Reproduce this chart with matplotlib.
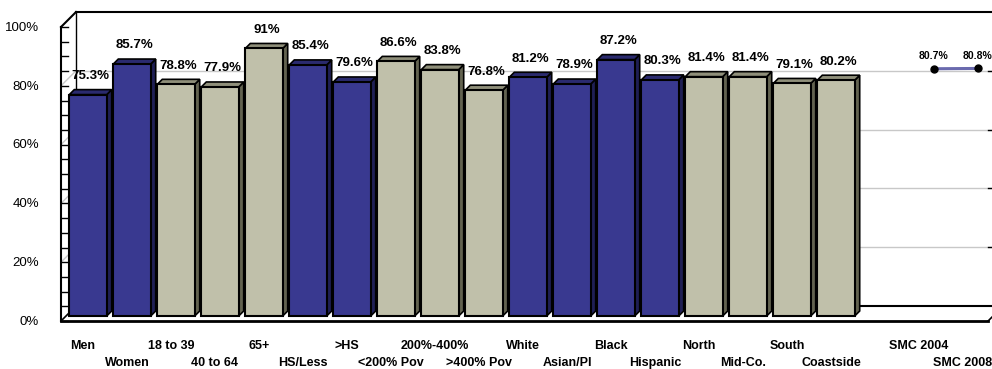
import numpy as np
import matplotlib
matplotlib.use("Agg")
import matplotlib.pyplot as plt
from matplotlib.patches import Polygon

plt.rcParams['font.family'] = ['Liberation Sans', 'DejaVu Sans']

# Data
categories = ["Men", "Women", "18 to 39", "40 to 64", "65+", "HS/Less", ">HS",
              "<200% Pov", "200%-400%", ">400% Pov", "White", "Asian/PI", "Black",
              "Hispanic", "North", "Mid-Co.", "South", "Coastside"]
values = [75.3, 85.7, 78.8, 77.9, 91.0, 85.4, 79.6, 86.6, 83.8, 76.8,
          81.2, 78.9, 87.2, 80.3, 81.4, 81.4, 79.1, 80.2]
value_labels = ["75.3%", "85.7%", "78.8%", "77.9%", "91%", "85.4%", "79.6%",
                "86.6%", "83.8%", "76.8%", "81.2%", "78.9%", "87.2%", "80.3%",
                "81.4%", "81.4%", "79.1%", "80.2%"]
groups = ["b", "b", "g", "g", "g", "b", "b", "g", "g", "g",
          "b", "b", "b", "b", "g", "g", "g", "g"]
smc_labels = ["SMC 2004", "SMC 2008"]
smc_values = [80.7, 80.8]
smc_pos = [19, 20]
label_rows = [0, 1] * 9 + [0, 1]   # staggered category labels

# colours: front, side, top
col = {"b": ("#393990", "#1f1f55", "#2a2a6e"),
       "g": ("#c0c0aa", "#636350", "#8f8f7a")}

# layout (data units); depth offset of the full 3D box
DX = 15 / 44.0
DY = 15 / 2.94
W = 0.85
XL, XR = -0.5, 20.57

fig = plt.figure(figsize=(9.92, 3.69), dpi=100)
ax = fig.add_axes([0, 0, 1, 1])
ax.set_xlim(-83 / 44.0, 909 / 44.0)
ax.set_ylim(-48 / 2.94, 321 / 2.94)
ax.axis("off")

# back wall gridlines and left-wall diagonals
for g in [20, 40, 60, 80]:
    ax.plot([XL + DX, XR + DX * 0.3], [g + DY, g + DY], color="#c8c8c8", lw=1, zorder=1)
    ax.plot([XL, XL + DX], [g, g + DY], color="#c8c8c8", lw=1, zorder=1)
    # right axis ticks
    ax.plot([XR, XR + 0.1], [g + DY, g + DY], color="black", lw=1, zorder=1)

# walls and floor outline
ax.plot([XL, XL], [0, 100], color="black", lw=1.5, zorder=2)
ax.plot([XL, XL + DX], [100, 100 + DY], color="black", lw=1.5, zorder=2)
ax.plot([XL + DX, XR + 1], [100 + DY, 100 + DY], color="black", lw=1.5, zorder=2)
ax.plot([XL + DX, XL + DX], [DY, 100 + DY], color="black", lw=1, zorder=1)
ax.plot([XL + DX, XR + 0.1], [DY, DY], color="black", lw=1.5, zorder=1)
ax.plot([XL, XR], [0, 0], color="black", lw=2, zorder=6)
ax.plot([XL, XL + DX], [0, DY], color="black", lw=1.2, zorder=1)
ax.plot([XR, XR + 0.1], [0, 0.1 * DY / DX], color="black", lw=1.2, zorder=6)

# left axis ticks and labels
for t in np.arange(0, 101, 5):
    ax.plot([XL, XL + 0.16], [t, t], color="black", lw=1, zorder=2)
for t in range(0, 101, 20):
    ax.text(-1.0, t - 0.3, f"{t}%", ha="right", va="center", fontsize=9.5)

# 3D bars
for i, (v, grp) in enumerate(zip(values, groups)):
    front, side, top = col[grp]
    x0 = i - W / 2 + DX / 3
    x1 = i + W / 2 + DX / 3
    y0 = DY / 3
    y1 = v + DY / 3
    dx, dy = DX / 3, DY / 3
    z = 3 + i * 0.01
    ax.add_patch(Polygon([(x1, y0), (x1 + dx, y0 + dy), (x1 + dx, y1 + dy), (x1, y1)],
                         closed=True, fc=side, ec="black", lw=1.2, zorder=z))
    ax.add_patch(Polygon([(x0, y1), (x1, y1), (x1 + dx, y1 + dy), (x0 + dx, y1 + dy)],
                         closed=True, fc=top, ec="black", lw=1.2, zorder=z))
    ax.add_patch(Polygon([(x0, y0), (x1, y0), (x1, y1), (x0, y1)],
                         closed=True, fc=front, ec="black", lw=1.5, zorder=z))
    ax.text(i + DX * 0.5, v + DY * 0.67 + 2.6, value_labels[i], ha="center", va="bottom",
            fontsize=9.5, fontweight="bold", zorder=10)

# SMC line on back plane
sx = [p + DX for p in smc_pos]
sy = [v + DY for v in smc_values]
ax.plot(sx, sy, color="#6a6aae", lw=2.2, marker="o", markersize=5,
        markerfacecolor="black", markeredgecolor="black", zorder=8)
for x, y, v in zip(sx, sy, smc_values):
    ax.text(x, y + 2.5, f"{v}%", ha="center", va="bottom", fontsize=7.5,
            fontweight="bold", zorder=10)

# category labels (staggered)
all_labels = categories + smc_labels
all_pos = list(range(len(categories))) + smc_pos
for p, lab, r in zip(all_pos, all_labels, label_rows):
    ax.text(p, -8.4 - r * 6.0, lab, ha="center", va="center", fontsize=9,
            fontweight="bold")

fig.savefig("out.png", dpi=100)
